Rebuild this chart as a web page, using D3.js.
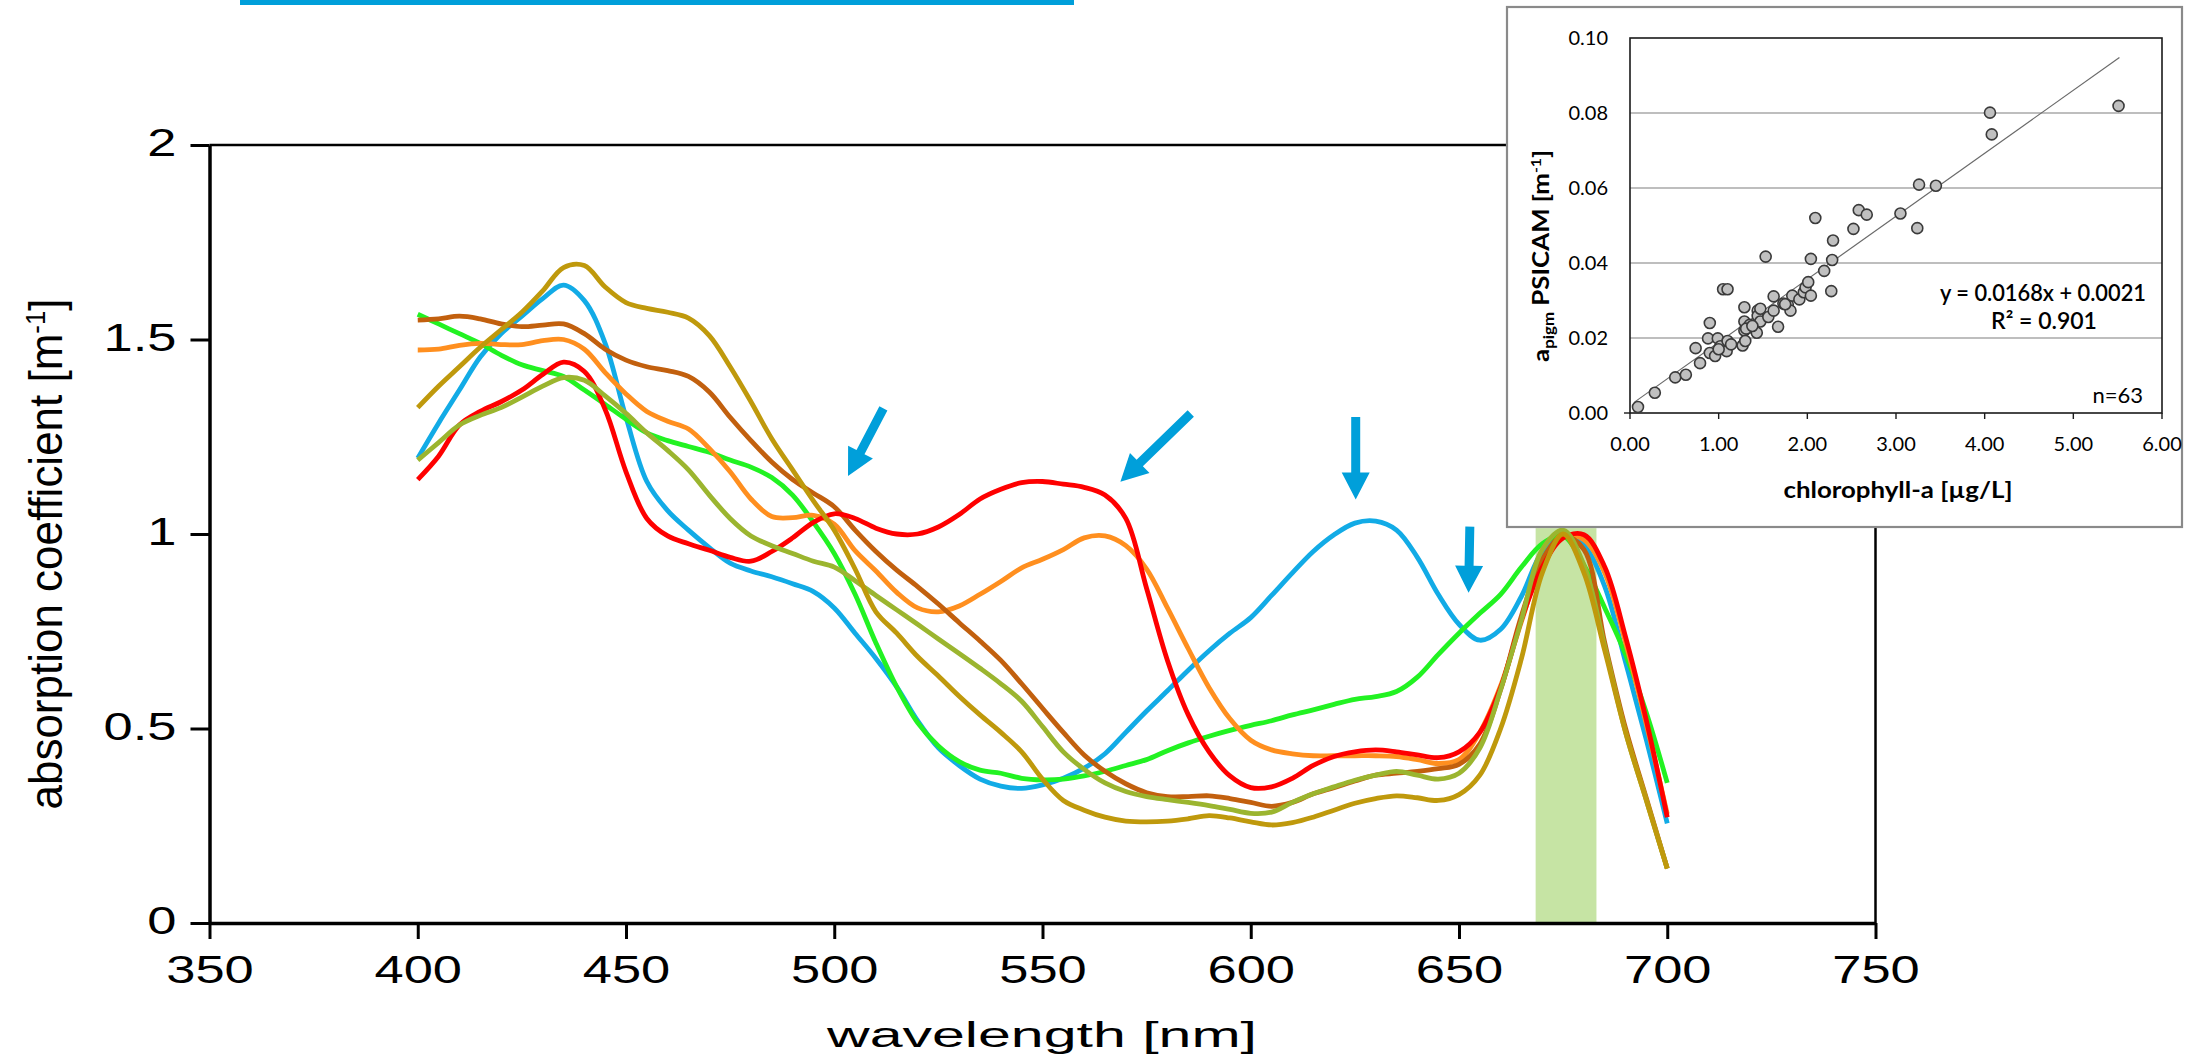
<!DOCTYPE html>
<html>
<head>
<meta charset="utf-8">
<title>Absorption spectra</title>
<script src="https://cdn.jsdelivr.net/npm/d3@7"></script>
<style>
  body { margin: 0; background: #fff; }
  svg { display: block; }
  .main text { font-family: "Liberation Sans", Arial, sans-serif; fill: #000; }
  .inset text { font-family: Lato, "Open Sans", sans-serif; fill: #000; }
</style>
</head>
<body>
<svg id="chart" width="2190" height="1056"></svg>
<script>

// wavelength grid of the spectra [nm]
var wavelengths = [400,405,410,415,420,425,430,435,440,445,450,455,460,465,470,475,480,485,490,495,
  500,505,510,515,520,525,530,535,540,545,550,555,560,565,570,575,580,585,590,595,
  600,605,610,615,620,625,630,635,640,645,650,655,660,665,670,675,680,685,690,695,700];

// absorption coefficient [m-1], one array per spectrum
var blueVals = [1.195,1.285,1.37,1.455,1.515,1.56,1.605,1.64,1.60,1.49,1.30,1.135,1.06,1.01,0.965,0.925,0.905,0.89,0.872,0.852,
  0.81,0.745,0.68,0.607,0.52,0.45,0.405,0.37,0.352,0.346,0.355,0.372,0.398,0.435,0.49,0.545,0.597,0.65,0.70,0.745,
  0.785,0.842,0.90,0.955,0.998,1.028,1.033,1.01,0.94,0.845,0.768,0.727,0.755,0.84,0.955,1.0,0.97,0.865,0.67,0.47,0.256];
var greenVals = [1.565,1.54,1.515,1.49,1.46,1.435,1.42,1.405,1.37,1.333,1.295,1.26,1.24,1.225,1.21,1.19,1.172,1.145,1.10,1.03,
  0.95,0.845,0.72,0.607,0.515,0.455,0.415,0.393,0.385,0.372,0.368,0.37,0.378,0.39,0.405,0.42,0.443,0.463,0.48,0.495,
  0.508,0.52,0.535,0.548,0.562,0.575,0.582,0.595,0.632,0.69,0.745,0.796,0.845,0.915,0.975,0.995,0.92,0.81,0.69,0.54,0.36];
var orangeVals = [1.473,1.475,1.485,1.49,1.487,1.487,1.497,1.50,1.475,1.415,1.36,1.315,1.29,1.27,1.22,1.16,1.09,1.045,1.042,1.048,
  1.025,0.957,0.905,0.85,0.81,0.80,0.815,0.845,0.878,0.913,0.935,0.96,0.99,0.995,0.97,0.91,0.81,0.705,0.605,0.525,
  0.47,0.445,0.435,0.43,0.43,0.43,0.43,0.428,0.42,0.41,0.42,0.49,0.61,0.775,0.93,0.995,0.985,0.9,0.72,0.51,0.28];
var brownVals = [1.55,1.553,1.56,1.553,1.54,1.533,1.537,1.54,1.515,1.475,1.447,1.43,1.42,1.405,1.365,1.30,1.24,1.185,1.14,1.105,
  1.07,1.01,0.955,0.907,0.865,0.82,0.772,0.725,0.675,0.615,0.552,0.49,0.432,0.39,0.358,0.335,0.325,0.325,0.327,0.32,
  0.31,0.30,0.31,0.332,0.348,0.365,0.38,0.385,0.39,0.397,0.408,0.46,0.60,0.79,0.935,0.995,0.96,0.72,0.50,0.32,0.14];
var redVals = [1.14,1.20,1.28,1.315,1.34,1.37,1.41,1.442,1.418,1.32,1.16,1.04,0.995,0.975,0.958,0.94,0.93,0.955,0.99,1.03,
  1.052,1.04,1.015,1.0,1.0,1.018,1.05,1.09,1.115,1.132,1.135,1.128,1.12,1.10,1.04,0.86,0.675,0.535,0.44,0.378,
  0.348,0.35,0.372,0.405,0.428,0.44,0.445,0.44,0.432,0.425,0.44,0.49,0.605,0.78,0.915,0.99,0.998,0.915,0.735,0.52,0.272];
var oliveVals = [1.19,1.235,1.28,1.305,1.325,1.352,1.38,1.402,1.395,1.355,1.31,1.26,1.215,1.165,1.10,1.04,0.995,0.97,0.95,0.93,
  0.915,0.88,0.842,0.805,0.768,0.73,0.693,0.655,0.615,0.57,0.505,0.44,0.395,0.36,0.338,0.325,0.317,0.31,0.302,0.292,
  0.282,0.285,0.31,0.332,0.35,0.367,0.38,0.39,0.38,0.37,0.385,0.45,0.60,0.78,0.96,1.01,0.92,0.71,0.49,0.315,0.14];
var goldVals = [1.325,1.38,1.43,1.48,1.525,1.57,1.625,1.685,1.69,1.635,1.595,1.58,1.57,1.555,1.51,1.43,1.34,1.245,1.165,1.085,
  1.01,0.91,0.80,0.745,0.685,0.635,0.583,0.535,0.49,0.44,0.37,0.315,0.29,0.272,0.262,0.26,0.262,0.268,0.276,0.27,
  0.26,0.252,0.258,0.272,0.29,0.308,0.32,0.327,0.322,0.315,0.33,0.38,0.50,0.68,0.90,1.0,0.90,0.70,0.49,0.315,0.14];

var xTicks = [350, 400, 450, 500, 550, 600, 650, 700, 750];
var yTicks = [0, 0.5, 1, 1.5, 2];

// shaded band: [from nm, to nm, height]
var band = [668.4, 683, 1.015];

// arrows: [tail nm, tail value, tip nm, tip value]
var arrows = [
  [511.8, 1.323, 503.3, 1.149],
  [585.6, 1.310, 568.7, 1.134],
  [625.2, 1.301, 625.2, 1.089],
  [652.6, 1.019, 652.3, 0.849]
];

// inset scatter: chlorophyll-a [ug/L] vs a_pigm PSICAM [m-1]
var chlA = [0.09,0.28,0.51,0.63,0.74,0.79,0.88,0.90,0.90,0.96,0.99,1.02,1.05,1.09,1.10,1.10,1.14,1.27,1.29,1.29,
  1.29,1.30,1.35,1.40,1.43,1.44,1.44,1.47,1.47,1.53,1.56,1.62,1.62,1.67,1.73,1.78,1.81,1.83,1.91,1.96,
  1.98,2.01,2.04,2.04,2.09,2.19,2.27,2.28,2.29,2.52,2.58,2.67,3.05,3.24,3.26,3.45,4.06,4.08,5.51,
  1.00,1.31,1.75,1.38];
var aPigm = [0.0016,0.0054,0.0095,0.0102,0.0173,0.0133,0.0199,0.0240,0.0160,0.0152,0.0199,0.0178,0.0330,0.0165,0.0192,0.0330,0.0183,0.0180,0.0282,0.0244,
  0.0220,0.0192,0.0235,0.0225,0.0214,0.0273,0.0259,0.0278,0.0244,0.0417,0.0256,0.0273,0.0311,0.0230,0.0292,0.0289,0.0273,0.0313,0.0303,0.0322,
  0.0335,0.0349,0.0313,0.0411,0.0520,0.0379,0.0325,0.0408,0.0460,0.0491,0.0541,0.0529,0.0532,0.0493,0.0609,0.0606,0.0801,0.0743,0.0819,
  0.0170,0.0225,0.0290,0.0232];
var insetXTicks = [0, 1, 2, 3, 4, 5, 6];
var insetYTicks = [0, 0.02, 0.04, 0.06, 0.08, 0.10];
var fitLine = [[0.05, 0.0029], [5.52, 0.0948]];

var series = [
  {name: "blue",   color: "#12abe6", values: blueVals},
  {name: "green",  color: "#22f222", values: greenVals},
  {name: "orange", color: "#ff8f1f", values: orangeVals},
  {name: "brown",  color: "#c2600e", values: brownVals},
  {name: "red",    color: "#fe0000", values: redVals},
  {name: "olive",  color: "#9bb52f", values: oliveVals},
  {name: "gold",   color: "#bf990c", values: goldVals}
];

var svg = d3.select("#chart");

// blue rule at the very top
svg.append("rect").attr("x", 240).attr("y", 0).attr("width", 834).attr("height", 5).attr("fill", "#009fda");

var x = d3.scaleLinear().domain([350, 750]).range([209.5, 1875.5]);
var y = d3.scaleLinear().domain([0, 2]).range([923, 145]);

var main = svg.append("g").attr("class", "main");

main.append("rect")
  .attr("x", x(band[0])).attr("y", y(band[2]))
  .attr("width", x(band[1]) - x(band[0])).attr("height", y(0) - y(band[2]))
  .attr("fill", "#c6e4a4");

var line = d3.line()
  .x(function(d) { return x(d[0]); })
  .y(function(d) { return y(d[1]); })
  .curve(d3.curveCatmullRom.alpha(0.5));

series.forEach(function(s) {
  main.append("path")
    .datum(wavelengths.map(function(w, i) { return [w, s.values[i]]; }))
    .attr("d", line)
    .attr("fill", "none")
    .attr("stroke", s.color)
    .attr("stroke-width", 4.8)
    .attr("stroke-linejoin", "round");
});

function arrowPoints(a) {
  var x0 = x(a[0]), y0 = y(a[1]), x1 = x(a[2]), y1 = y(a[3]);
  var dx = x1 - x0, dy = y1 - y0, L = Math.sqrt(dx * dx + dy * dy);
  var ux = dx / L, uy = dy / L, px = -uy, py = ux;
  var sw = 4.5, hw = 14, hl = 27;
  var bx = x1 - ux * hl, by = y1 - uy * hl;
  return [
    [x0 + px * sw, y0 + py * sw], [bx + px * sw, by + py * sw], [bx + px * hw, by + py * hw],
    [x1, y1],
    [bx - px * hw, by - py * hw], [bx - px * sw, by - py * sw], [x0 - px * sw, y0 - py * sw]
  ].map(function(p) { return p.join(","); }).join(" ");
}

main.selectAll("polygon.arrow").data(arrows).enter().append("polygon")
  .attr("class", "arrow")
  .attr("points", arrowPoints)
  .attr("fill", "#009fda");

// frame top and right
main.append("line").attr("x1", x(350)).attr("x2", x(750)).attr("y1", y(2)).attr("y2", y(2))
  .attr("stroke", "#000").attr("stroke-width", 2.5);
main.append("line").attr("x1", x(750)).attr("x2", x(750)).attr("y1", y(2)).attr("y2", y(0))
  .attr("stroke", "#000").attr("stroke-width", 2.5);

function stretch(sel, k) {
  sel.each(function() {
    var len = this.getComputedTextLength();
    d3.select(this).attr("textLength", len * k).attr("lengthAdjust", "spacingAndGlyphs");
  });
}

var gx = main.append("g").attr("transform", "translate(0," + y(0) + ")")
  .call(d3.axisBottom(x).tickValues(xTicks).tickSize(16).tickSizeOuter(0).tickPadding(17.5)
    .tickFormat(function(d) { return String(d); }));
var gy = main.append("g").attr("transform", "translate(" + x(350) + ",0)")
  .call(d3.axisLeft(y).tickValues(yTicks).tickSize(19).tickSizeOuter(0).tickPadding(14)
    .tickFormat(function(d) { return String(d); }));

[gx, gy].forEach(function(g) {
  g.select(".domain").attr("stroke", "#000").attr("stroke-width", 3.5);
  g.selectAll(".tick line").attr("stroke", "#000").attr("stroke-width", 3);
  g.selectAll(".tick text").attr("font-size", 38).attr("font-family", null);
  stretch(g.selectAll(".tick text"), 1.38);
});
gy.selectAll(".tick text").attr("dy", "0.28em");

main.append("text")
  .attr("x", 1042).attr("y", 1047)
  .attr("text-anchor", "middle")
  .style("font-size", "35px")
  .attr("textLength", 430).attr("lengthAdjust", "spacingAndGlyphs")
  .text("wavelength [nm]");

var yt = main.append("text")
  .attr("transform", "translate(62,554) rotate(-90)")
  .attr("text-anchor", "middle")
  .style("font-size", "46px")
  .attr("textLength", 511).attr("lengthAdjust", "spacingAndGlyphs");
yt.append("tspan").text("absorption coefficient [m");
yt.append("tspan").attr("dy", -17).style("font-size", "27px").text("-1");
yt.append("tspan").attr("dy", 17).text("]");

// ---- inset scatter ----
var inset = svg.append("g").attr("class", "inset");
inset.append("rect").attr("x", 1507).attr("y", 7).attr("width", 675).attr("height", 520)
  .attr("fill", "#fff").attr("stroke", "#8a8a8a").attr("stroke-width", 2.2);

var ix = d3.scaleLinear().domain([0, 6]).range([1630, 2162]);
var iy = d3.scaleLinear().domain([0, 0.1]).range([413, 38]);

inset.selectAll("line.grid").data(insetYTicks.filter(function(d) { return d > 0 && d < 0.1; }))
  .enter().append("line").attr("class", "grid")
  .attr("x1", ix(0)).attr("x2", ix(6))
  .attr("y1", function(d) { return iy(d); }).attr("y2", function(d) { return iy(d); })
  .attr("stroke", "#a8a8a8").attr("stroke-width", 1.3);

inset.append("rect").attr("x", ix(0)).attr("y", iy(0.1))
  .attr("width", ix(6) - ix(0)).attr("height", iy(0) - iy(0.1))
  .attr("fill", "none").attr("stroke", "#1a1a1a").attr("stroke-width", 1.6);

inset.selectAll("line.xt").data(insetXTicks).enter().append("line")
  .attr("x1", function(d) { return ix(d); }).attr("x2", function(d) { return ix(d); })
  .attr("y1", iy(0)).attr("y2", iy(0) + 6).attr("stroke", "#1a1a1a").attr("stroke-width", 1.4);
inset.append("line").attr("x1", ix(0) - 6).attr("x2", ix(0)).attr("y1", iy(0)).attr("y2", iy(0))
  .attr("stroke", "#1a1a1a").attr("stroke-width", 1.4);

inset.selectAll("text.ixl").data(insetXTicks).enter().append("text")
  .attr("x", function(d) { return ix(d); }).attr("y", 451)
  .attr("text-anchor", "middle").style("font-size", "20px")
  .text(function(d) { return d.toFixed(2); });
inset.selectAll("text.iyl").data(insetYTicks).enter().append("text")
  .attr("x", 1608).attr("y", function(d) { return iy(d) + 7; })
  .attr("text-anchor", "end").style("font-size", "20px")
  .text(function(d) { return d.toFixed(2); });

inset.append("path")
  .attr("d", d3.line().x(function(d) { return ix(d[0]); }).y(function(d) { return iy(d[1]); })(fitLine))
  .attr("stroke", "#6a6a6a").attr("stroke-width", 1.2).attr("fill", "none");

inset.selectAll("circle").data(chlA).enter().append("circle")
  .attr("cx", function(d) { return ix(d); })
  .attr("cy", function(d, i) { return iy(aPigm[i]); })
  .attr("r", 5.5)
  .attr("fill", "#c0c0c0").attr("stroke", "#3a3a3a").attr("stroke-width", 1.6);

inset.append("text").attr("x", 2146).attr("y", 301).attr("text-anchor", "end")
  .style("font-size", "23px").style("font-weight", 600)
  .attr("textLength", 206).attr("lengthAdjust", "spacingAndGlyphs")
  .text("y = 0.0168x + 0.0021");
inset.append("text").attr("x", 2044).attr("y", 329).attr("text-anchor", "middle")
  .style("font-size", "23px").style("font-weight", 600)
  .text("R² = 0.901");
inset.append("text").attr("x", 2143).attr("y", 403).attr("text-anchor", "end")
  .style("font-size", "22px")
  .text("n=63");

inset.append("text").attr("x", 1898).attr("y", 498).attr("text-anchor", "middle")
  .style("font-size", "23px").style("font-weight", "bold")
  .attr("textLength", 229).attr("lengthAdjust", "spacingAndGlyphs")
  .text("chlorophyll-a [µg/L]");

var iyt = inset.append("text")
  .attr("transform", "translate(1549,256) rotate(-90)")
  .attr("text-anchor", "middle")
  .style("font-size", "23px").style("font-weight", "bold")
  .attr("textLength", 212).attr("lengthAdjust", "spacingAndGlyphs");
iyt.append("tspan").text("a");
iyt.append("tspan").attr("dy", 5).style("font-size", "15px").text("pigm");
iyt.append("tspan").attr("dy", -5).text(" PSICAM [m");
iyt.append("tspan").attr("dy", -8).style("font-size", "14px").text("-1");
iyt.append("tspan").attr("dy", 8).text("]");

</script>
</body>
</html>
